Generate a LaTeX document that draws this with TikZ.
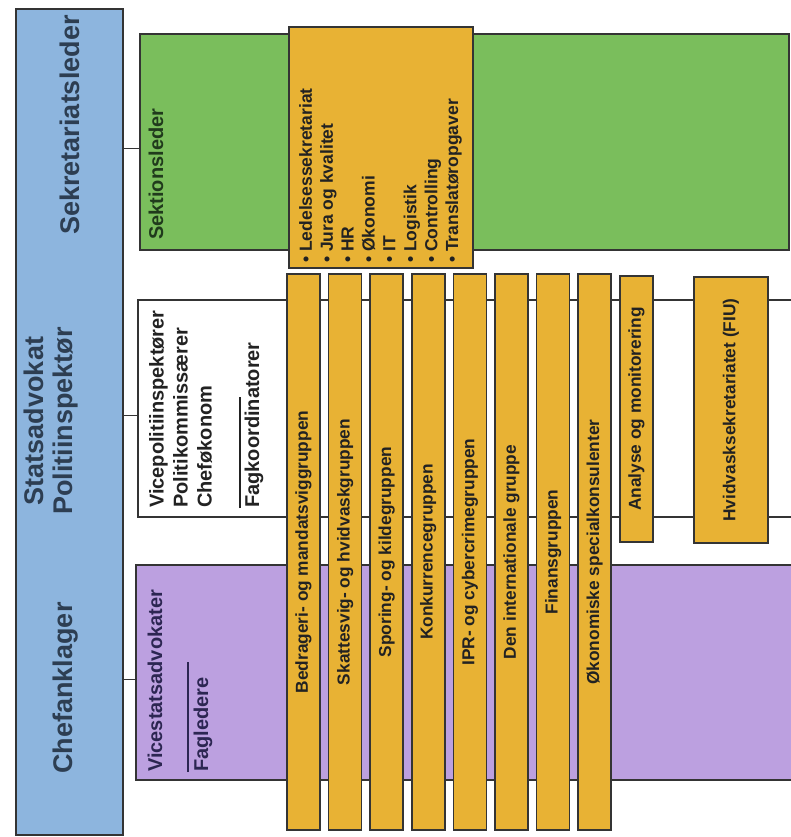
\documentclass[tikz,border=0pt]{standalone}
\usepackage{fontspec}
\setmainfont{Liberation Sans}
\usetikzlibrary{calc}

\definecolor{ledblue}{RGB}{141,181,222}
\definecolor{sekgreen}{RGB}{122,190,92}
\definecolor{vsapurple}{RGB}{188,160,224}
\definecolor{grporange}{RGB}{232,178,52}
\definecolor{edge}{RGB}{52,52,52}
\definecolor{bluetext}{RGB}{45,62,82}
\definecolor{greentext}{RGB}{32,58,28}
\definecolor{purpletext}{RGB}{44,38,82}
\definecolor{darktext}{RGB}{34,34,34}

\tikzset{
  box/.style={draw=edge, line width=1.6pt, inner sep=0pt, anchor=north west},
  grpbar/.style={draw=edge, line width=1.6pt, fill=grporange, inner sep=0pt, rotate=90,
    text=darktext, font=\bfseries\fontsize{17.3}{20}\selectfont},
  conn/.style={draw=edge, line width=1.3pt},
  skille/.style={draw=purpletext, line width=1.4pt},
  bigtxt/.style={rotate=90, inner sep=0pt, text=bluetext, align=center,
    font=\bfseries\fontsize{27}{29.5}\selectfont},
  midtxt/.style={rotate=90, inner sep=0pt, align=left,
    font=\bfseries\fontsize{20}{24}\selectfont}
}

\begin{document}
\begin{tikzpicture}[x=1pt, y=-1pt]
\useasboundingbox (0,0) rectangle (790,837);
% ledelse
\node[box, fill=ledblue, minimum width=107pt, minimum height=826pt] (led) at (15,8) {};
\node[bigtxt] (sekleder) at (70,125) {Sekretariatsleder};
\node[bigtxt] (statsadv) at (51,421) {Statsadvokat\\Politiinspektør};
\node[bigtxt] (chefankl) at (66,688) {Chefanklager};
% sektioner
\node[box, fill=sekgreen, minimum width=649pt, minimum height=216pt] (sek) at (139,33) {};
\node[box, fill=white, minimum width=655pt, minimum height=217pt] (vpi) at (137,299) {};
\node[box, fill=vsapurple, minimum width=657pt, minimum height=215pt] (vsa) at (135,564) {};
\node[midtxt, text=greentext, anchor=base west] (sektl) at (163,240) {Sektionsleder};
\node[midtxt, text=darktext, anchor=north west] (vpitxt) at (149,508)
  {Vicepolitiinspektører\\Politikommissærer\\Cheføkonom};
\draw[skille, draw=darktext] (240,508) -- (240,397);
\node[midtxt, text=darktext, anchor=base west] (fagko) at (259,508) {Fagkoordinatorer};
\node[midtxt, text=purpletext, anchor=base west] (vsatxt) at (162,772) {Vicestatsadvokater};
\draw[skille] (188,772) -- (188,662);
\node[midtxt, text=purpletext, anchor=base west] (fagl) at (208,772) {Fagledere};
% forbindelser
\foreach \n in {sek,vpi,vsa} {
  \coordinate (\n-in) at ([yshift=-7pt]\n.west);
  \draw[conn] (\n-in -| led.east) -- (\n-in);
}
% sekretariat
\node[box, fill=grporange, minimum width=184pt, minimum height=241pt] (sekr) at (288,26) {};
\node[midtxt, text=darktext, anchor=north west, font=\bfseries\fontsize{17.5}{20.9}\selectfont]
  (sekrtxt) at (299,263)
  {• Ledelsessekretariat\\• Jura og kvalitet\\• HR\\• Økonomi\\• IT\\• Logistik\\• Controlling\\• Translatøropgaver};
% grupper
\foreach \lbl [count=\i from 0] in {Bedrageri- og mandatsviggruppen, Skattesvig- og hvidvaskgruppen,
  Sporing- og kildegruppen, Konkurrencegruppen, IPR- og cybercrimegruppen,
  Den internationale gruppe, Finansgruppen, Økonomiske specialkonsulenter}
  \node[grpbar, minimum width=556pt, minimum height=33pt] (grp\i) at (303.5+41.6*\i,552) {\lbl};
\node[grpbar, minimum width=266pt, minimum height=33pt] (analyse) at (636.5,409) {Analyse og monitorering};
\node[grpbar, minimum width=266pt, minimum height=74pt] (fiu) at (731,410) {Hvidvasksekretariatet (FIU)};
\end{tikzpicture}
\end{document}
